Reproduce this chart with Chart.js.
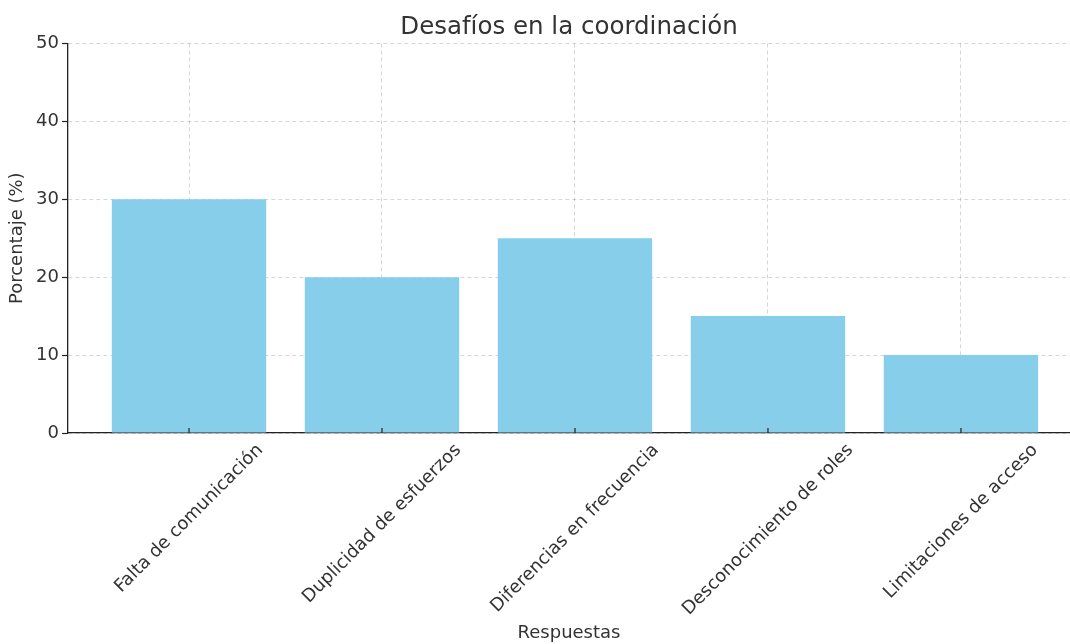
<!DOCTYPE html>
<html>
<head>
<meta charset="utf-8">
<title>Desafíos en la coordinación</title>
<script src="https://cdn.jsdelivr.net/npm/chart.js@4.4.0/dist/chart.umd.min.js"></script>
<style>
  body { margin: 0; background: #fff; }
  #wrap { width: 1070px; height: 644px; position: relative; }
</style>
</head>
<body>
<div id="wrap"><canvas id="myChart"></canvas></div>
<script>
// data
var categories = ['Falta de comunicación', 'Duplicidad de esfuerzos', 'Diferencias en frecuencia', 'Desconocimiento de roles', 'Limitaciones de acceso'];
var percentages = [30, 20, 25, 15, 10];
var yTicks = [0, 10, 20, 30, 40, 50];

var FONT = "'DejaVu Sans', sans-serif";
var TEXT = '#333333';
var GRID = 'rgba(0,0,0,0.16)';

// x labels are drawn like matplotlib: rotated 45 and centred under the tick
var rotatedLabels = {
    id: 'rotatedLabels',
    afterDraw(chart) {
        var ctx = chart.ctx
        var xs = chart.scales.x
        var bottom = chart.chartArea.bottom
        ctx.save()
        // small inward ticks
        ctx.strokeStyle = '#222'
        ctx.lineWidth = 1.2
        categories.forEach((c, i) => {
            var x = xs.getPixelForValue(i)
            ctx.beginPath()
            ctx.moveTo(x, bottom - 5)
            ctx.lineTo(x, bottom)
            ctx.stroke()
        })
        ctx.font = '18px ' + FONT
        ctx.fillStyle = TEXT
        ctx.textAlign = 'center'
        ctx.textBaseline = 'middle'
        categories.forEach((c, i) => {
            var x = xs.getPixelForValue(i)
            var L = ctx.measureText(c).width
            var h = 21
            var w = (L + h) * Math.SQRT1_2
            ctx.save()
            ctx.translate(x, bottom + 7 + w / 2)
            ctx.rotate(-Math.PI / 4)
            ctx.fillText(c, 0, 0)
            ctx.restore()
        })
        ctx.restore()
    }
}

new Chart(document.getElementById('myChart'), {
    type: 'bar',
    data: {
        datasets: [{
            label: 'Porcentaje',
            data: percentages.map((v, i) => ({ x: i, y: v })),
            backgroundColor: '#87CEEB',
            borderWidth: 0,
            categoryPercentage: 1,
            barPercentage: 0.8
        }]
    },
    options: {
        responsive: true,
        maintainAspectRatio: false,
        animation: false,
        layout: { padding: 0 },
        plugins: {
            legend: { display: false },
            tooltip: { enabled: false },
            title: {
                display: true,
                fullSize: false,
                text: 'Desafíos en la coordinación',
                color: TEXT,
                font: { family: FONT, size: 24.5, weight: 'normal' },
                padding: { top: 13, bottom: 1 }
            }
        },
        scales: {
            x: {
                type: 'linear',
                min: -0.627,
                max: 4.565,
                offset: false,
                z: 1,
                afterBuildTicks: s => { s.ticks = categories.map((c, i) => ({ value: i })) },
                afterFit: s => { s.height = 211 },
                ticks: { display: false },
                grid: { color: GRID, drawTicks: false, offset: false },
                border: { display: true, color: '#222', width: 1.3, dash: [4, 3] },
                title: {
                    display: true,
                    text: 'Respuestas',
                    color: TEXT,
                    font: { family: FONT, size: 18 },
                    padding: { top: 0, bottom: 0 }
                }
            },
            y: {
                min: 0,
                max: 50,
                z: 1,
                afterBuildTicks: s => { s.ticks = yTicks.map(v => ({ value: v })) },
                afterFit: s => { s.width = 68 },
                ticks: { color: TEXT, font: { family: FONT, size: 18 }, padding: 3 },
                grid: { color: GRID, tickColor: '#222', tickLength: 6, tickWidth: 1.2 },
                border: { display: true, color: '#222', width: 1.3, dash: [4, 3] },
                title: {
                    display: true,
                    text: 'Porcentaje (%)',
                    color: TEXT,
                    font: { family: FONT, size: 18 },
                    padding: { top: 7, bottom: 0 }
                }
            }
        }
    },
    plugins: [rotatedLabels]
});
</script>
</body>
</html>
